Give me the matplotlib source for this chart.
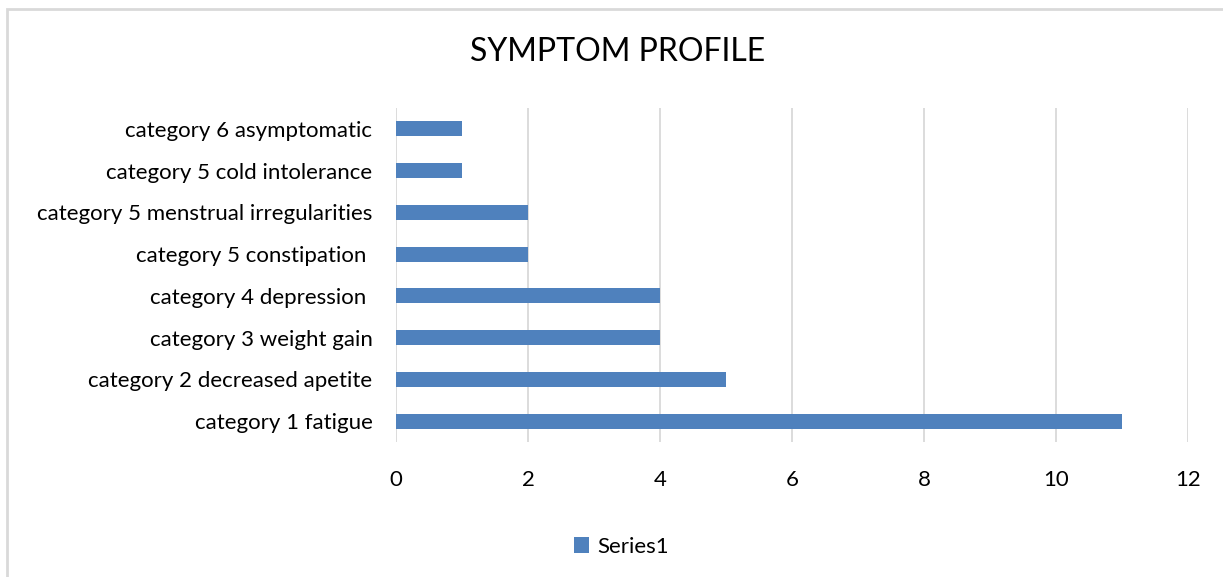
import matplotlib
matplotlib.use("Agg")
import matplotlib.pyplot as plt
from matplotlib.patches import Rectangle

categories = ["category 1 fatigue", "category 2 decreased apetite", "category 3 weight gain",
              "category 4 depression ", "category 5 constipation ",
              "category 5 menstrual irregularities", "category 5 cold intolerance",
              "category 6 asymptomatic"]
values = [11, 5, 4, 4, 2, 2, 1, 1]
xticks = [0, 2, 4, 6, 8, 10, 12]
series_name = "Series1"
title = "SYMPTOM PROFILE"

plt.rcParams['font.family'] = ['Lato', 'DejaVu Sans']
W, H = 1223, 577
fig = plt.figure(figsize=(W / 100, H / 100), dpi=100)
fig.patch.set_facecolor('white')

# outer border
fig.add_artist(Rectangle((7 / W, -0.1), 1.2, 1 - 9 / H + 0.1, transform=fig.transFigure,
                         fill=False, edgecolor='#D9D9D9', linewidth=2))

ax = fig.add_axes([396 / W, 1 - 442 / H, (1188 - 396) / W, (442 - 108) / H])
y = list(range(len(categories)))
ax.barh(y, values, height=0.36, color='#4F81BD', label=series_name, zorder=3)
ax.set_xlim(0, 12)
ax.set_ylim(-0.5, len(categories) - 0.5)
ax.set_xticks(xticks)
ax.set_xticklabels([str(t) for t in xticks], fontsize=16, color='#000000')
ax.set_yticks(y)
ax.set_yticklabels(categories, fontsize=16, color='#000000')
ax.tick_params(axis='x', length=0, pad=20)
ax.tick_params(axis='y', length=0, pad=17)
ax.grid(axis='x', color='#D9D9D9', linewidth=1.3, zorder=0)
for s in ax.spines.values():
    s.set_visible(False)

fig.text(618 / W, 1 - 52 / H, title, ha='center', va='center', fontsize=23, color='#000000')
fig.legend(loc='center', bbox_to_anchor=(621 / W, 1 - 547 / H), frameon=False,
           fontsize=16, handlelength=0.7, handleheight=0.7, handletextpad=0.35)

fig.savefig("out.png", dpi=100)
